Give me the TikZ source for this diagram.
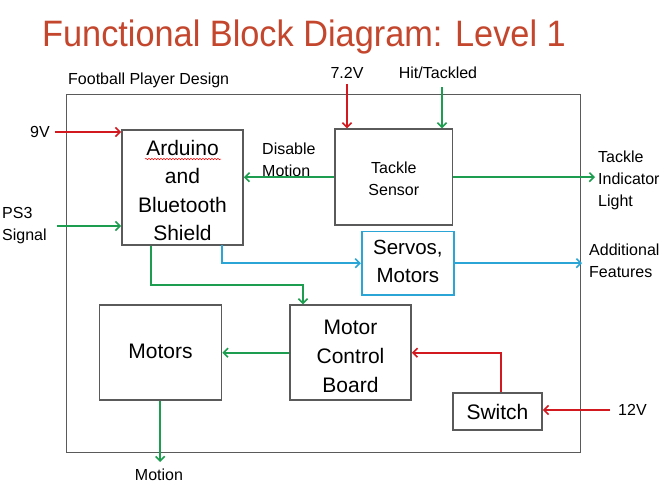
\documentclass[tikz,border=0pt]{standalone}
\usepackage{fontspec}
\setmainfont{Liberation Sans}
\usetikzlibrary{arrows.meta,decorations.pathmorphing,calc}
\definecolor{cred}{HTML}{D31920}
\definecolor{cgreen}{HTML}{1D9D4F}
\definecolor{cblue}{HTML}{2AA5D5}
\definecolor{cgray}{HTML}{5A5A5A}
\definecolor{ctitle}{HTML}{C3462D}
\begin{document}
\begin{tikzpicture}[x=1pt,y=-1pt,
  blk/.style={draw=cgray, line width=1.8pt, fill=white, inner sep=0pt},
  btxt/.style={align=center, inner sep=0pt, text=black},
  lbl/.style={font=\fontsize{16}{22}\selectfont, align=left, inner sep=0pt, text=black},
  big/.style={font=\fontsize{21}{29}\selectfont},
  conn/.style={line width=2pt, -{Straight Barb[length=4.5pt,width=9pt,line width=1.6pt]}},
  rarrow/.style={conn, draw=cred},
  garrow/.style={conn, draw=cgreen},
  barrow/.style={conn, draw=cblue}]
\useasboundingbox (0,0) rectangle (661,496);
\fill[white] (0,0) rectangle (661,496);

% title
\node[inner sep=0pt, text=ctitle, font=\fontsize{35}{40}\selectfont] (title) at (304,37) {\scalebox{0.98}[1.05]{Functional Block Diagram: Level 1}};

% frame
\node[draw=cgray, line width=1.8pt, minimum width=514pt, minimum height=358pt, inner sep=0pt] (frame) at (323.5,273.5) {};
\node[lbl, anchor=west] (fpd) at (68,80) {Football Player Design};

% blocks
\node[blk, minimum width=121pt, minimum height=115pt] (ard) at (182.5,187.5) {};
\node[btxt, big, font=\fontsize{21}{28.5}\selectfont] (ardt) at ([yshift=-3pt]ard.center) {Arduino\\and\\Bluetooth\\Shield};
\draw[red, line width=0.5pt, decorate, decoration={snake, amplitude=0.7pt, segment length=3pt}] (145,159) -- (221,159);
\node[blk, minimum width=117.5pt, minimum height=96pt] (ts) at (393.8,177.2) {};
\node[btxt, font=\fontsize{16}{22}\selectfont] (tst) at ([yshift=-2pt]ts.center) {Tackle\\Sensor};
\node[blk, draw=cblue, minimum width=92.3pt, minimum height=63.3pt] (servo) at (407.9,263.2) {};
\node[btxt, font=\fontsize{20.5}{28}\selectfont] (servot) at ([yshift=2pt]servo.center) {Servos,\\Motors};
\node[blk, minimum width=122pt, minimum height=95pt] (mot) at (160.5,352.7) {};
\node[btxt, big] (mott) at ([yshift=1pt]mot.center) {Motors};
\node[blk, minimum width=121pt, minimum height=95pt] (mcb) at (350.5,352.7) {};
\node[btxt, big] (mcbt) at ([yshift=-4pt]mcb.center) {Motor\\Control\\Board};
\node[blk, minimum width=89pt, minimum height=37pt] (sw) at (497.5,411.5) {};
\node[btxt, big] (swt) at (sw.center) {Switch};

% labels
\node[lbl] (v9) at (40,132) {9V};
\node[lbl, anchor=west] (ps3) at (2,226) {PS3\\Signal};
\node[lbl, anchor=west] (dis) at (262,160) {Disable\\Motion};
\node[lbl] (v72) at (347,73) {7.2V};
\node[lbl] (hit) at (438,73) {Hit/Tackled};
\node[lbl, anchor=west] (light) at (598,180) {Tackle\\Indicator\\Light};
\node[lbl, anchor=west] (addl) at (589,261) {Additional\\Features};
\node[lbl, anchor=west] (v12) at (618,410) {12V};
\node[lbl] (motion) at (159,475) {Motion};

% free ends
\coordinate (lightin) at (595,177.2);
\coordinate (addlin) at (582,263.2);
\coordinate (motout) at (160.2,462);
\coordinate (blueout) at (222.2,245);
\coordinate (hitc) at (442,87);
\coordinate (bend) at (303,284.5);

% connectors
\draw[rarrow] ([xshift=5pt]v9.east) -- (v9.east -| ard.west);
\draw[garrow] ([xshift=10pt]ps3.east) -- (ps3.east -| ard.west);
\draw[garrow] (ts.west) -- (ts.west -| ard.east);
\draw[rarrow] ([yshift=-5pt]v72.south) -- (v72.south |- ts.north);
\draw[garrow] (hitc) -- (hitc |- ts.north);
\draw[garrow] (ts.east) -- (lightin);
\draw[barrow] (blueout) |- (servo.west);
\draw[barrow] (servo.east) -- (addlin);
\draw[garrow] ([xshift=30pt]ard.south west) |- (bend) -- (bend |- mcb.north);
\draw[garrow] (mcb.west) -- (mcb.west -| mot.east);
\draw[rarrow] ([xshift=3.5pt]sw.north) |- (mcb.east);
\draw[rarrow] ([xshift=-8pt]v12.west) -- (v12.west -| sw.east);
\draw[garrow] (mot.south -| motout) -- (motout);
\end{tikzpicture}
\end{document}
